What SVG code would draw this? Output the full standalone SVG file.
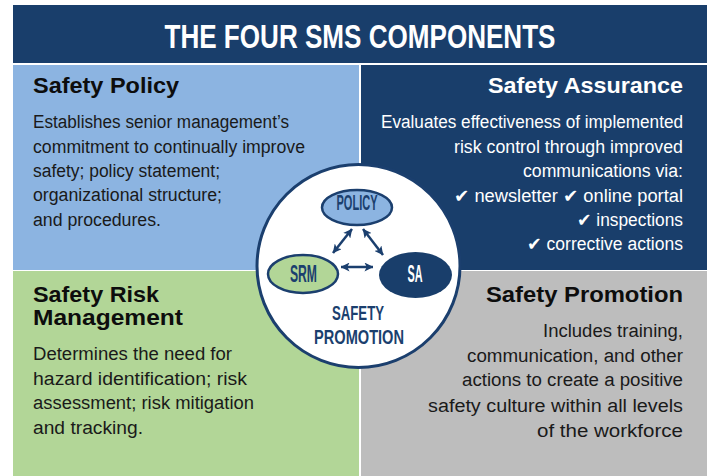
<svg xmlns="http://www.w3.org/2000/svg" width="714" height="476" viewBox="0 0 714 476">
  <style>
    .head { font-family: "Liberation Sans", Arial, sans-serif; font-weight: bold; font-size: 22px; fill: #0d0d0d; }
    .body { font-family: "Liberation Sans", Arial, sans-serif; font-size: 18px; fill: #1a1a1a; }
    .wh { fill: #ffffff; }
    .chk { font-family: "DejaVu Sans", sans-serif; }
    .cond { font-family: "Liberation Sans Narrow", "Liberation Sans", Arial, sans-serif; font-weight: bold; fill: #1b3f6e; }
    .conn { stroke: #1b3f6e; stroke-width: 2.5; fill: none; marker-start: url(#ah); marker-end: url(#ah); }
  </style>
  <defs>
    <marker id="ah" viewBox="0 0 10 10" refX="9.5" refY="5" markerWidth="9" markerHeight="9" markerUnits="userSpaceOnUse" orient="auto-start-reverse">
      <path d="M0,0 L10,5 L0,10 L2.5,5 Z" fill="#1b3f6e"/>
    </marker>
  </defs>
  <rect x="0" y="0" width="714" height="476" fill="#ffffff"/>

  <g id="title">
    <rect x="13" y="5" width="694" height="58" fill="#193e6b"/>
    <text x="360" y="48" text-anchor="middle" font-family="Liberation Sans Narrow, Liberation Sans, Arial, sans-serif" font-weight="bold" font-size="33" fill="#ffffff" textLength="391" lengthAdjust="spacingAndGlyphs">THE FOUR SMS COMPONENTS</text>
  </g>

  <g id="safety-policy">
    <rect x="13" y="65" width="346" height="205" fill="#8cb4e1"/>
    <text class="head" x="33" y="93" textLength="146" lengthAdjust="spacingAndGlyphs">Safety Policy</text>
    <text class="body" x="33" y="128" textLength="256" lengthAdjust="spacingAndGlyphs">Establishes senior management’s</text>
    <text class="body" x="33" y="153" textLength="272" lengthAdjust="spacingAndGlyphs">commitment to continually improve</text>
    <text class="body" x="33" y="177" textLength="187" lengthAdjust="spacingAndGlyphs">safety; policy statement;</text>
    <text class="body" x="33" y="201" textLength="189" lengthAdjust="spacingAndGlyphs">organizational structure;</text>
    <text class="body" x="33" y="226" textLength="128" lengthAdjust="spacingAndGlyphs">and procedures.</text>
  </g>

  <g id="safety-assurance">
    <rect x="361" y="65" width="346" height="205" fill="#193e6b"/>
    <text class="head wh" x="683" y="93" text-anchor="end" textLength="195" lengthAdjust="spacingAndGlyphs">Safety Assurance</text>
    <text class="body wh" x="683" y="128" text-anchor="end" textLength="302" lengthAdjust="spacingAndGlyphs">Evaluates effectiveness of implemented</text>
    <text class="body wh" x="683" y="153" text-anchor="end" textLength="229" lengthAdjust="spacingAndGlyphs">risk control through improved</text>
    <text class="body wh" x="683" y="177" text-anchor="end" textLength="160" lengthAdjust="spacingAndGlyphs">communications via:</text>
    <text class="body wh" x="683" y="202" text-anchor="end" textLength="229" lengthAdjust="spacingAndGlyphs"><tspan class="chk">✔</tspan> newsletter  <tspan class="chk">✔</tspan> online portal</text>
    <text class="body wh" x="683" y="226" text-anchor="end" textLength="106" lengthAdjust="spacingAndGlyphs"><tspan class="chk">✔</tspan> inspections</text>
    <text class="body wh" x="683" y="250" text-anchor="end" textLength="156" lengthAdjust="spacingAndGlyphs"><tspan class="chk">✔</tspan> corrective actions</text>
  </g>

  <g id="safety-risk-management">
    <rect x="13" y="271" width="346" height="205" fill="#b2d697"/>
    <text class="head" x="33" y="302" textLength="126" lengthAdjust="spacingAndGlyphs">Safety Risk</text>
    <text class="head" x="33" y="325" textLength="150" lengthAdjust="spacingAndGlyphs">Management</text>
    <text class="body" x="33" y="360" textLength="199" lengthAdjust="spacingAndGlyphs">Determines the need for</text>
    <text class="body" x="33" y="385" textLength="214" lengthAdjust="spacingAndGlyphs">hazard identification; risk</text>
    <text class="body" x="33" y="409" textLength="221" lengthAdjust="spacingAndGlyphs">assessment; risk mitigation</text>
    <text class="body" x="33" y="434" textLength="110" lengthAdjust="spacingAndGlyphs">and tracking.</text>
  </g>

  <g id="safety-promotion">
    <rect x="361" y="271" width="346" height="205" fill="#bdbdbd"/>
    <text class="head" x="683" y="302" text-anchor="end" textLength="197" lengthAdjust="spacingAndGlyphs">Safety Promotion</text>
    <text class="body" x="683" y="337" text-anchor="end" textLength="140" lengthAdjust="spacingAndGlyphs">Includes training,</text>
    <text class="body" x="683" y="362" text-anchor="end" textLength="216" lengthAdjust="spacingAndGlyphs">communication, and other</text>
    <text class="body" x="683" y="386" text-anchor="end" textLength="221" lengthAdjust="spacingAndGlyphs">actions to create a positive</text>
    <text class="body" x="683" y="412" text-anchor="end" textLength="255" lengthAdjust="spacingAndGlyphs">safety culture within all levels</text>
    <text class="body" x="683" y="437" text-anchor="end" textLength="146" lengthAdjust="spacingAndGlyphs">of the workforce</text>
  </g>

  <g id="sms-circle">
    <circle cx="358.5" cy="266" r="101.5" fill="#ffffff" stroke="#1b3f6e" stroke-width="3"/>
    <text class="cond" x="358" y="320" text-anchor="middle" font-size="21" textLength="52" lengthAdjust="spacingAndGlyphs">SAFETY</text>
    <text class="cond" x="359" y="344" text-anchor="middle" font-size="21" textLength="90" lengthAdjust="spacingAndGlyphs">PROMOTION</text>
  </g>

  <g id="policy">
    <ellipse cx="357" cy="207.5" rx="35" ry="17.5" fill="#8cb4e1" stroke="#1b3f6e" stroke-width="2.5"/>
    <text class="cond" x="357" y="209.5" text-anchor="middle" font-size="22" textLength="41" lengthAdjust="spacingAndGlyphs">POLICY</text>
  </g>

  <g id="srm">
    <ellipse cx="303" cy="274" rx="35" ry="19" fill="#b2d697" stroke="#1b3f6e" stroke-width="2.5"/>
    <text class="cond" x="303.5" y="282" text-anchor="middle" font-size="23" textLength="27" lengthAdjust="spacingAndGlyphs">SRM</text>
  </g>

  <g id="sa">
    <ellipse cx="415.5" cy="275" rx="36.5" ry="23" fill="#193e6b"/>
    <text class="cond" x="415" y="282" text-anchor="middle" font-size="23" textLength="15" lengthAdjust="spacingAndGlyphs" style="fill:#ffffff">SA</text>
  </g>

  <g id="connectors">
    <path class="conn" d="M352,229 L333,253"/>
    <path class="conn" d="M363,229 L383,255"/>
    <path class="conn" d="M341,267 L373,267"/>
  </g>
</svg>
